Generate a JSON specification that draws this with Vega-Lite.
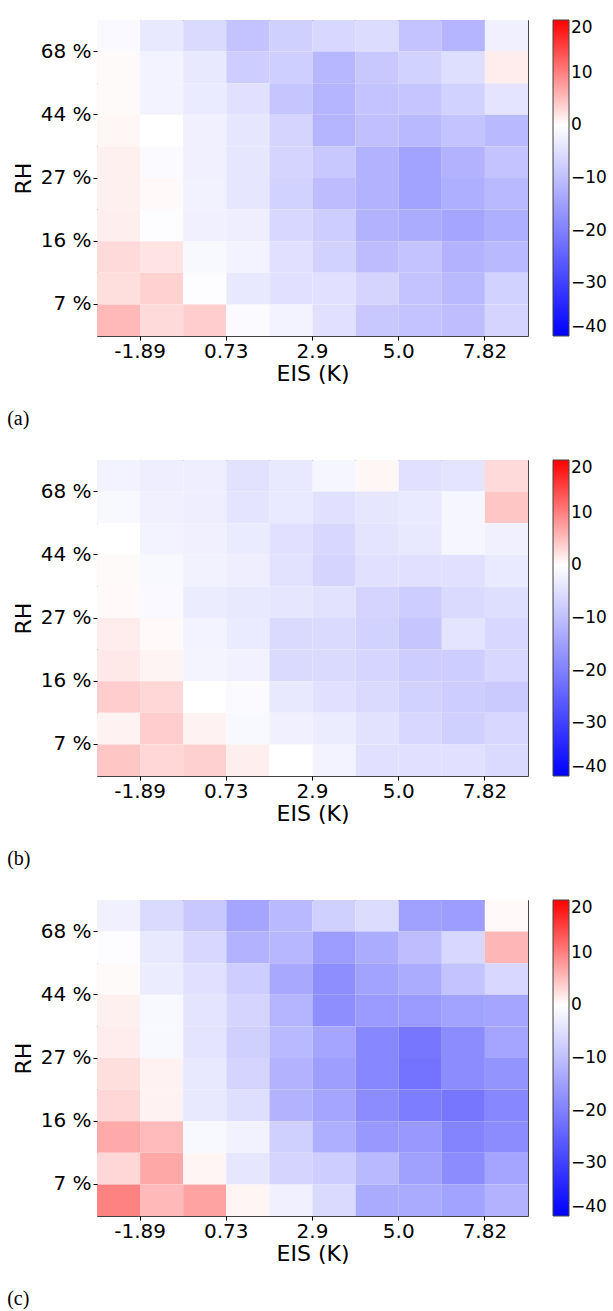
{
  "$schema": "https://vega.github.io/schema/vega-lite/v6.json",
  "background": "white",
  "padding": {"left": 6, "top": 19, "right": 0, "bottom": 0},
  "config": {
    "font": "DejaVu Sans",
    "view": {"stroke": "#444", "strokeWidth": 1},
    "axis": {"labelColor": "black", "titleColor": "black", "tickColor": "black", "titleFontWeight": "normal", "grid": false, "domain": false},
    "axisX": {"bandPosition": 0, "labelOffset": -21.55, "labelAngle": 0, "titleFontSize": 22, "labelFontSize": 20, "tickSize": 4, "labelPadding": 1, "titlePadding": 2},
    "axisY": {"bandPosition": 0, "labelOffset": -15.8, "titleFontSize": 22, "labelFontSize": 20, "tickSize": 4, "labelPadding": 2, "titlePadding": 5},
    "legend": {"labelColor": "black", "orient": "right", "offset": 25, "gradientLength": 316, "gradientThickness": 16, "labelOverlap": false, "labelFontSize": 17, "labelBaseline": "middle", "labelOffset": 5, "gradientStrokeColor": "#444", "gradientStrokeWidth": 1},
    "title": {"orient": "bottom", "anchor": "start", "frame": "bounds", "font": "Liberation Serif", "fontSize": 20, "fontWeight": "normal", "offset": 25, "dx": -5, "color": "black"}
  },
  "datasets": {
    "a": [
      {"i":0,"j":9,"v":-1},{"i":1,"j":9,"v":-3.6},{"i":2,"j":9,"v":-5.8},{"i":3,"j":9,"v":-9.4},{"i":4,"j":9,"v":-7.4},{"i":5,"j":9,"v":-6.3},{"i":6,"j":9,"v":-5.5},{"i":7,"j":9,"v":-9.4},{"i":8,"j":9,"v":-11.8},{"i":9,"j":9,"v":-2.4},
      {"i":0,"j":8,"v":0.4},{"i":1,"j":8,"v":-1.9},{"i":2,"j":8,"v":-3.6},{"i":3,"j":8,"v":-7.8},{"i":4,"j":8,"v":-7.5},{"i":5,"j":8,"v":-11.3},{"i":6,"j":8,"v":-8.6},{"i":7,"j":8,"v":-7},{"i":8,"j":8,"v":-5.2},{"i":9,"j":8,"v":1.5},
      {"i":0,"j":7,"v":0.4},{"i":1,"j":7,"v":-1.9},{"i":2,"j":7,"v":-3.1},{"i":3,"j":7,"v":-4.7},{"i":4,"j":7,"v":-8.9},{"i":5,"j":7,"v":-11.8},{"i":6,"j":7,"v":-9.4},{"i":7,"j":7,"v":-9.1},{"i":8,"j":7,"v":-7},{"i":9,"j":7,"v":-4.2},
      {"i":0,"j":6,"v":0.7},{"i":1,"j":6,"v":0},{"i":2,"j":6,"v":-2.4},{"i":3,"j":6,"v":-3.9},{"i":4,"j":6,"v":-6.7},{"i":5,"j":6,"v":-11.8},{"i":6,"j":6,"v":-9.9},{"i":7,"j":6,"v":-11},{"i":8,"j":6,"v":-9.4},{"i":9,"j":6,"v":-11},
      {"i":0,"j":5,"v":1.2},{"i":1,"j":5,"v":-0.8},{"i":2,"j":5,"v":-2.4},{"i":3,"j":5,"v":-3.9},{"i":4,"j":5,"v":-6.7},{"i":5,"j":5,"v":-8.6},{"i":6,"j":5,"v":-12.1},{"i":7,"j":5,"v":-14.6},{"i":8,"j":5,"v":-12.1},{"i":9,"j":5,"v":-9.4},
      {"i":0,"j":4,"v":1.2},{"i":1,"j":4,"v":0.5},{"i":2,"j":4,"v":-2},{"i":3,"j":4,"v":-3.9},{"i":4,"j":4,"v":-7},{"i":5,"j":4,"v":-10.5},{"i":6,"j":4,"v":-12.1},{"i":7,"j":4,"v":-14.6},{"i":8,"j":4,"v":-12.5},{"i":9,"j":4,"v":-11},
      {"i":0,"j":3,"v":1.3},{"i":1,"j":3,"v":-0.3},{"i":2,"j":3,"v":-2.4},{"i":3,"j":3,"v":-2.7},{"i":4,"j":3,"v":-6.3},{"i":5,"j":3,"v":-7.8},{"i":6,"j":3,"v":-12.1},{"i":7,"j":3,"v":-13},{"i":8,"j":3,"v":-14.1},{"i":9,"j":3,"v":-12.5},
      {"i":0,"j":2,"v":2.9},{"i":1,"j":2,"v":2.1},{"i":2,"j":2,"v":-1.1},{"i":3,"j":2,"v":-1.9},{"i":4,"j":2,"v":-4.7},{"i":5,"j":2,"v":-7},{"i":6,"j":2,"v":-10.5},{"i":7,"j":2,"v":-9.4},{"i":8,"j":2,"v":-12.1},{"i":9,"j":2,"v":-11},
      {"i":0,"j":1,"v":2.6},{"i":1,"j":1,"v":3.5},{"i":2,"j":1,"v":-0.3},{"i":3,"j":1,"v":-3.6},{"i":4,"j":1,"v":-4.7},{"i":5,"j":1,"v":-4.7},{"i":6,"j":1,"v":-6.7},{"i":7,"j":1,"v":-9.4},{"i":8,"j":1,"v":-11},{"i":9,"j":1,"v":-7},
      {"i":0,"j":0,"v":5.5},{"i":1,"j":0,"v":2.9},{"i":2,"j":0,"v":3.9},{"i":3,"j":0,"v":-0.8},{"i":4,"j":0,"v":-1.9},{"i":5,"j":0,"v":-4.7},{"i":6,"j":0,"v":-8.6},{"i":7,"j":0,"v":-9.4},{"i":8,"j":0,"v":-10.2},{"i":9,"j":0,"v":-6.7}
    ],
    "b": [
      {"i":0,"j":9,"v":-1.9},{"i":1,"j":9,"v":-2.7},{"i":2,"j":9,"v":-2.7},{"i":3,"j":9,"v":-4.5},{"i":4,"j":9,"v":-3.6},{"i":5,"j":9,"v":-1.4},{"i":6,"j":9,"v":0.7},{"i":7,"j":9,"v":-4.7},{"i":8,"j":9,"v":-4.2},{"i":9,"j":9,"v":2.9},
      {"i":0,"j":8,"v":-1.1},{"i":1,"j":8,"v":-2.4},{"i":2,"j":8,"v":-2.7},{"i":3,"j":8,"v":-4.2},{"i":4,"j":8,"v":-3.5},{"i":5,"j":8,"v":-4.7},{"i":6,"j":8,"v":-3.9},{"i":7,"j":8,"v":-3.5},{"i":8,"j":8,"v":-1.4},{"i":9,"j":8,"v":4.5},
      {"i":0,"j":7,"v":0},{"i":1,"j":7,"v":-1.9},{"i":2,"j":7,"v":-2.4},{"i":3,"j":7,"v":-3.1},{"i":4,"j":7,"v":-4.7},{"i":5,"j":7,"v":-6.3},{"i":6,"j":7,"v":-4.2},{"i":7,"j":7,"v":-3.6},{"i":8,"j":7,"v":-1.4},{"i":9,"j":7,"v":-2.4},
      {"i":0,"j":6,"v":0.4},{"i":1,"j":6,"v":-1.1},{"i":2,"j":6,"v":-2},{"i":3,"j":6,"v":-2.7},{"i":4,"j":6,"v":-4.5},{"i":5,"j":6,"v":-6.7},{"i":6,"j":6,"v":-4.7},{"i":7,"j":6,"v":-4.7},{"i":8,"j":6,"v":-4.7},{"i":9,"j":6,"v":-3.5},
      {"i":0,"j":5,"v":0.5},{"i":1,"j":5,"v":-0.9},{"i":2,"j":5,"v":-3},{"i":3,"j":5,"v":-3.6},{"i":4,"j":5,"v":-3.9},{"i":5,"j":5,"v":-4.5},{"i":6,"j":5,"v":-6.7},{"i":7,"j":5,"v":-7.8},{"i":8,"j":5,"v":-5.8},{"i":9,"j":5,"v":-5.2},
      {"i":0,"j":4,"v":1.5},{"i":1,"j":4,"v":0.5},{"i":2,"j":4,"v":-1.9},{"i":3,"j":4,"v":-3.1},{"i":4,"j":4,"v":-5.8},{"i":5,"j":4,"v":-5.8},{"i":6,"j":4,"v":-7},{"i":7,"j":4,"v":-8.9},{"i":8,"j":4,"v":-4.2},{"i":9,"j":4,"v":-6.3},
      {"i":0,"j":3,"v":1.8},{"i":1,"j":3,"v":0.9},{"i":2,"j":3,"v":-1.7},{"i":3,"j":3,"v":-2.2},{"i":4,"j":3,"v":-5.8},{"i":5,"j":3,"v":-5.8},{"i":6,"j":3,"v":-6.6},{"i":7,"j":3,"v":-7.8},{"i":8,"j":3,"v":-7.8},{"i":9,"j":3,"v":-6.3},
      {"i":0,"j":2,"v":3.9},{"i":1,"j":2,"v":3.1},{"i":2,"j":2,"v":0},{"i":3,"j":2,"v":-0.8},{"i":4,"j":2,"v":-3.6},{"i":5,"j":2,"v":-4.7},{"i":6,"j":2,"v":-5.8},{"i":7,"j":2,"v":-7},{"i":8,"j":2,"v":-7.8},{"i":9,"j":2,"v":-8.3},
      {"i":0,"j":1,"v":1},{"i":1,"j":1,"v":3.9},{"i":2,"j":1,"v":1},{"i":3,"j":1,"v":-1.1},{"i":4,"j":1,"v":-2.4},{"i":5,"j":1,"v":-3},{"i":6,"j":1,"v":-4.5},{"i":7,"j":1,"v":-6.3},{"i":8,"j":1,"v":-7.4},{"i":9,"j":1,"v":-6.3},
      {"i":0,"j":0,"v":4.5},{"i":1,"j":0,"v":3.1},{"i":2,"j":0,"v":3.7},{"i":3,"j":0,"v":1.3},{"i":4,"j":0,"v":0},{"i":5,"j":0,"v":-1.9},{"i":6,"j":0,"v":-4.7},{"i":7,"j":0,"v":-4.7},{"i":8,"j":0,"v":-4.7},{"i":9,"j":0,"v":-5.8}
    ],
    "c": [
      {"i":0,"j":9,"v":-2.4},{"i":1,"j":9,"v":-5.8},{"i":2,"j":9,"v":-8.6},{"i":3,"j":9,"v":-14.1},{"i":4,"j":9,"v":-11},{"i":5,"j":9,"v":-7.4},{"i":6,"j":9,"v":-5.5},{"i":7,"j":9,"v":-14.9},{"i":8,"j":9,"v":-15.4},{"i":9,"j":9,"v":0.5},
      {"i":0,"j":8,"v":-0.3},{"i":1,"j":8,"v":-3.6},{"i":2,"j":8,"v":-6.3},{"i":3,"j":8,"v":-12.1},{"i":4,"j":8,"v":-11.3},{"i":5,"j":8,"v":-15.4},{"i":6,"j":8,"v":-13},{"i":7,"j":8,"v":-10.2},{"i":8,"j":8,"v":-6.3},{"i":9,"j":8,"v":5.7},
      {"i":0,"j":7,"v":0.4},{"i":1,"j":7,"v":-3},{"i":2,"j":7,"v":-4.7},{"i":3,"j":7,"v":-7.8},{"i":4,"j":7,"v":-13.6},{"i":5,"j":7,"v":-17.7},{"i":6,"j":7,"v":-14.6},{"i":7,"j":7,"v":-13},{"i":8,"j":7,"v":-9.4},{"i":9,"j":7,"v":-6.3},
      {"i":0,"j":6,"v":1.2},{"i":1,"j":6,"v":-1.1},{"i":2,"j":6,"v":-4.2},{"i":3,"j":6,"v":-6.7},{"i":4,"j":6,"v":-11.8},{"i":5,"j":6,"v":-17.7},{"i":6,"j":6,"v":-15.7},{"i":7,"j":6,"v":-15.7},{"i":8,"j":6,"v":-14.6},{"i":9,"j":6,"v":-14.1},
      {"i":0,"j":5,"v":1.5},{"i":1,"j":5,"v":-1.1},{"i":2,"j":5,"v":-4.2},{"i":3,"j":5,"v":-7.4},{"i":4,"j":5,"v":-11},{"i":5,"j":5,"v":-14.1},{"i":6,"j":5,"v":-18.8},{"i":7,"j":5,"v":-21.5},{"i":8,"j":5,"v":-18},{"i":9,"j":5,"v":-14.1},
      {"i":0,"j":4,"v":2.6},{"i":1,"j":4,"v":1},{"i":2,"j":4,"v":-3.6},{"i":3,"j":4,"v":-6.7},{"i":4,"j":4,"v":-12.1},{"i":5,"j":4,"v":-15.2},{"i":6,"j":4,"v":-18.8},{"i":7,"j":4,"v":-22},{"i":8,"j":4,"v":-18},{"i":9,"j":4,"v":-16.8},
      {"i":0,"j":3,"v":3.1},{"i":1,"j":3,"v":1},{"i":2,"j":3,"v":-3.6},{"i":3,"j":3,"v":-5.2},{"i":4,"j":3,"v":-12.1},{"i":5,"j":3,"v":-14.1},{"i":6,"j":3,"v":-18},{"i":7,"j":3,"v":-20.4},{"i":8,"j":3,"v":-21.5},{"i":9,"j":3,"v":-18.8},
      {"i":0,"j":2,"v":6.7},{"i":1,"j":2,"v":5.3},{"i":2,"j":2,"v":-1.1},{"i":3,"j":2,"v":-2},{"i":4,"j":2,"v":-7.4},{"i":5,"j":2,"v":-12.5},{"i":6,"j":2,"v":-16.2},{"i":7,"j":2,"v":-16.2},{"i":8,"j":2,"v":-19.3},{"i":9,"j":2,"v":-18},
      {"i":0,"j":1,"v":3.1},{"i":1,"j":1,"v":6.8},{"i":2,"j":1,"v":0.8},{"i":3,"j":1,"v":-3.9},{"i":4,"j":1,"v":-6.7},{"i":5,"j":1,"v":-7.8},{"i":6,"j":1,"v":-11},{"i":7,"j":1,"v":-14.9},{"i":8,"j":1,"v":-18},{"i":9,"j":1,"v":-14.1},
      {"i":0,"j":0,"v":9.8},{"i":1,"j":0,"v":5.5},{"i":2,"j":0,"v":7.3},{"i":3,"j":0,"v":0.8},{"i":4,"j":0,"v":-2.4},{"i":5,"j":0,"v":-5.8},{"i":6,"j":0,"v":-13.3},{"i":7,"j":0,"v":-13.3},{"i":8,"j":0,"v":-14.6},{"i":9,"j":0,"v":-12.1}
    ]
  },
  "vconcat": [
    {
      "data": {"name": "a"},
      "width": 431, "height": 316,
      "title": {"text": "(a)"},
      "mark": "rect",
      "encoding": {
        "x": {"field": "i", "type": "ordinal", "scale": {"paddingInner": 0, "paddingOuter": 0}, "axis": {"title": "EIS (K)", "values": [1,3,5,7,9], "labelExpr": "datum.value == 1 ? '-1.89' : datum.value == 3 ? '0.73' : datum.value == 5 ? '2.9' : datum.value == 7 ? '5.0' : '7.82'"}},
        "y": {"field": "j", "type": "ordinal", "sort": "descending", "scale": {"paddingInner": 0, "paddingOuter": 0}, "axis": {"title": "RH", "values": [8,6,4,2,0], "labelExpr": "datum.value == 8 ? '68 %' : datum.value == 6 ? '44 %' : datum.value == 4 ? '27 %' : datum.value == 2 ? '16 %' : '7 %'"}},
        "color": {"field": "v", "type": "quantitative", "scale": {"domain": [-40, 0, 20], "range": ["#0000ff", "#ffffff", "#ff0000"], "interpolate": "rgb"}, "legend": {"title": null, "values": [-40,-30,-20,-10,0,10,20]}}
      }
    },
    {
      "data": {"name": "b"},
      "width": 431, "height": 316,
      "title": {"text": "(b)"},
      "mark": "rect",
      "encoding": {
        "x": {"field": "i", "type": "ordinal", "scale": {"paddingInner": 0, "paddingOuter": 0}, "axis": {"title": "EIS (K)", "values": [1,3,5,7,9], "labelExpr": "datum.value == 1 ? '-1.89' : datum.value == 3 ? '0.73' : datum.value == 5 ? '2.9' : datum.value == 7 ? '5.0' : '7.82'"}},
        "y": {"field": "j", "type": "ordinal", "sort": "descending", "scale": {"paddingInner": 0, "paddingOuter": 0}, "axis": {"title": "RH", "values": [8,6,4,2,0], "labelExpr": "datum.value == 8 ? '68 %' : datum.value == 6 ? '44 %' : datum.value == 4 ? '27 %' : datum.value == 2 ? '16 %' : '7 %'"}},
        "color": {"field": "v", "type": "quantitative", "scale": {"domain": [-40, 0, 20], "range": ["#0000ff", "#ffffff", "#ff0000"], "interpolate": "rgb"}, "legend": {"title": null, "values": [-40,-30,-20,-10,0,10,20]}}
      }
    },
    {
      "data": {"name": "c"},
      "width": 431, "height": 316,
      "title": {"text": "(c)"},
      "mark": "rect",
      "encoding": {
        "x": {"field": "i", "type": "ordinal", "scale": {"paddingInner": 0, "paddingOuter": 0}, "axis": {"title": "EIS (K)", "values": [1,3,5,7,9], "labelExpr": "datum.value == 1 ? '-1.89' : datum.value == 3 ? '0.73' : datum.value == 5 ? '2.9' : datum.value == 7 ? '5.0' : '7.82'"}},
        "y": {"field": "j", "type": "ordinal", "sort": "descending", "scale": {"paddingInner": 0, "paddingOuter": 0}, "axis": {"title": "RH", "values": [8,6,4,2,0], "labelExpr": "datum.value == 8 ? '68 %' : datum.value == 6 ? '44 %' : datum.value == 4 ? '27 %' : datum.value == 2 ? '16 %' : '7 %'"}},
        "color": {"field": "v", "type": "quantitative", "scale": {"domain": [-40, 0, 20], "range": ["#0000ff", "#ffffff", "#ff0000"], "interpolate": "rgb"}, "legend": {"title": null, "values": [-40,-30,-20,-10,0,10,20]}}
      }
    }
  ],
  "spacing": 29,
  "resolve": {"scale": {"color": "independent"}, "legend": {"color": "independent"}}
}
